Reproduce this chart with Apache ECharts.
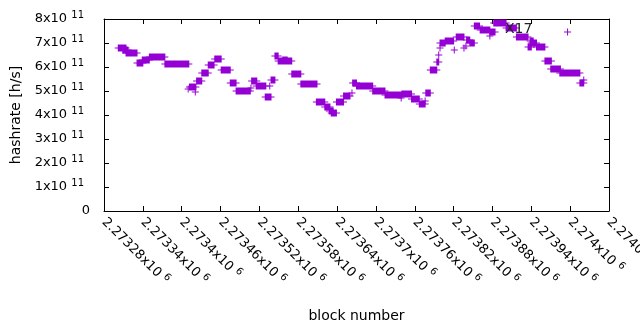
<!DOCTYPE html>
<html>
<head>
<meta charset="utf-8">
<script src="https://cdn.jsdelivr.net/npm/echarts@6/dist/echarts.min.js"></script>
<style>html,body{margin:0;padding:0;background:#fff}#c{width:640px;height:330px}</style>
</head>
<body>
<div id="c"></div>
<script>
// x axis: block numbers
const xMin = 2273280, xMax = 2274060, xStep = 60;
const xTickLabels = ['2.27328','2.27334','2.2734','2.27346','2.27352','2.27358','2.27364','2.2737','2.27376','2.27382','2.27388','2.27394','2.274','2.27406'];
const xTickExp = '6';
// y axis: hashrate
const yMin = 0, yMax = 8e11, yStep = 1e11;
const yTickLabels = ['0','1','2','3','4','5','6','7','8'];
const yTickExp = '11';

// runs of blocks sharing one hashrate value (block offsets from xMin)
const runStart = [22,29,34,51,59,70,94,130,132,141,143,151,161,171,181,195,204,227,228,235,249,256,258,264,269,276,290,304,328,341,348,351,359,370,383,384,390,415,434,459,460,475,487,496,497,504,514,517,519,519,527,541,544,556,559,560,565,572,581,596,596,602,621,637,655,658,660,668,681,690,704,716,735,741];
const runEnd   = [34,37,51,60,70,94,131,130,142,141,151,161,170,181,195,204,226,227,236,250,258,256,264,269,290,283,304,329,341,349,354,359,370,380,383,390,415,434,460,459,475,487,496,496,504,514,517,517,519,527,540,541,556,556,559,565,572,580,596,596,604,621,637,655,660,663,668,681,691,705,735,716,741,741];
const runRate  = [6.78,6.69,6.60,6.16,6.31,6.40,6.11,5.07,5.15,4.97,5.42,5.73,6.10,6.35,5.86,5.35,5.02,5.11,5.40,5.19,4.76,5.21,5.45,6.46,6.23,6.30,5.70,5.28,4.53,4.32,4.18,4.07,4.55,4.80,4.92,5.34,5.21,4.99,4.83,4.70,4.86,4.65,4.44,4.58,4.90,5.87,6.22,6.50,6.78,6.99,7.08,6.71,7.26,6.78,6.89,7.13,6.99,7.72,7.54,7.29,7.47,7.82,7.61,7.26,6.85,7.10,6.99,6.82,6.25,5.90,5.74,7.44,5.32,5.46];

const purple = '#9400d3';
const FONT = 'DejaVu Sans';

const runs = runStart.map((s, i) => [xMin + s, xMin + runEnd[i], runRate[i] * 1e11]);

const chart = echarts.init(document.getElementById('c'), null, {renderer: 'canvas'});

const xLab = {
  fontFamily: FONT, color: '#000', margin: 9, rotate: -45,
  formatter: v => {
    const i = Math.round((v - xMin) / xStep);
    return '{b|' + xTickLabels[i] + 'x10 }{s|' + xTickExp + '}';
  },
  rich: {
    b: {fontFamily: FONT, fontSize: 13, color: '#000', lineHeight: 18},
    s: {fontFamily: FONT, fontSize: 10, color: '#000', lineHeight: 10, verticalAlign: 'top'}
  }
};
const yLab = {
  fontFamily: FONT, color: '#000', margin: 14,
  formatter: v => {
    const i = Math.round((v - yMin) / yStep);
    if (i === 0) return '{b|' + yTickLabels[i] + '}';
    return '{b|' + yTickLabels[i] + 'x10 }{s|' + yTickExp + '}{p|}';
  },
  rich: {
    b: {fontFamily: FONT, fontSize: 13, color: '#000', lineHeight: 18},
    s: {fontFamily: FONT, fontSize: 10, color: '#000', lineHeight: 10, verticalAlign: 'top'},
    p: {width: 6}
  }
};
const axLine = {show: true, onZero: false, lineStyle: {color: '#000', width: 1}};
const axTick = {show: true, inside: true, length: 5, lineStyle: {color: '#000'}};

chart.setOption({
  animation: false,
  backgroundColor: '#fff',
  grid: {left: 104, right: 31, top: 19, bottom: 119, containLabel: false, outerBoundsMode: 'none'},
  xAxis: [
    {type: 'value', min: xMin, max: xMax, interval: xStep, position: 'bottom',
     axisLine: axLine, axisTick: axTick, splitLine: {show: false}, axisLabel: xLab,
     name: 'block number', nameLocation: 'middle', nameGap: 98,
     nameTextStyle: {fontFamily: FONT, fontSize: 14, color: '#000'}},
    {type: 'value', min: xMin, max: xMax, interval: xStep, position: 'top',
     axisLine: axLine, axisTick: axTick, splitLine: {show: false}, axisLabel: {show: false}}
  ],
  yAxis: [
    {type: 'value', min: yMin, max: yMax, interval: yStep, position: 'left',
     axisLine: axLine, axisTick: axTick, splitLine: {show: false}, axisLabel: yLab,
     name: 'hashrate [h/s]', nameLocation: 'middle', nameGap: 79,
     nameTextStyle: {fontFamily: FONT, fontSize: 14, color: '#000'}},
    {type: 'value', min: yMin, max: yMax, interval: yStep, position: 'right',
     axisLine: axLine, axisTick: axTick, splitLine: {show: false}, axisLabel: {show: false}}
  ],
  series: [{
    type: 'custom',
    xAxisIndex: 0, yAxisIndex: 0,
    z: 2,
    data: runs,
    encode: {x: [0, 1], y: 2},
    renderItem: (params, api) => {
      const p1 = api.coord([api.value(0), api.value(2)]);
      const p2 = api.coord([api.value(1), api.value(2)]);
      const y = Math.round(p1[1]);
      const x1 = p1[0], x2 = p2[0];
      return {
        type: 'group',
        children: [
          {type: 'rect', shape: {x: x1 - 0.5, y: y - 3.5, width: x2 - x1 + 1, height: 7}, style: {fill: purple}},
          {type: 'rect', shape: {x: x1 - 3.5, y: y - 0.5, width: x2 - x1 + 7, height: 1}, style: {fill: purple}}
        ]
      };
    }
  }],
  graphic: [{
    type: 'text', left: 505, top: 22, z: 100, zlevel: 1,
    style: {text: 'X17', fontFamily: FONT, fontSize: 14, fill: '#222'}
  }]
});
</script>
</body>
</html>
